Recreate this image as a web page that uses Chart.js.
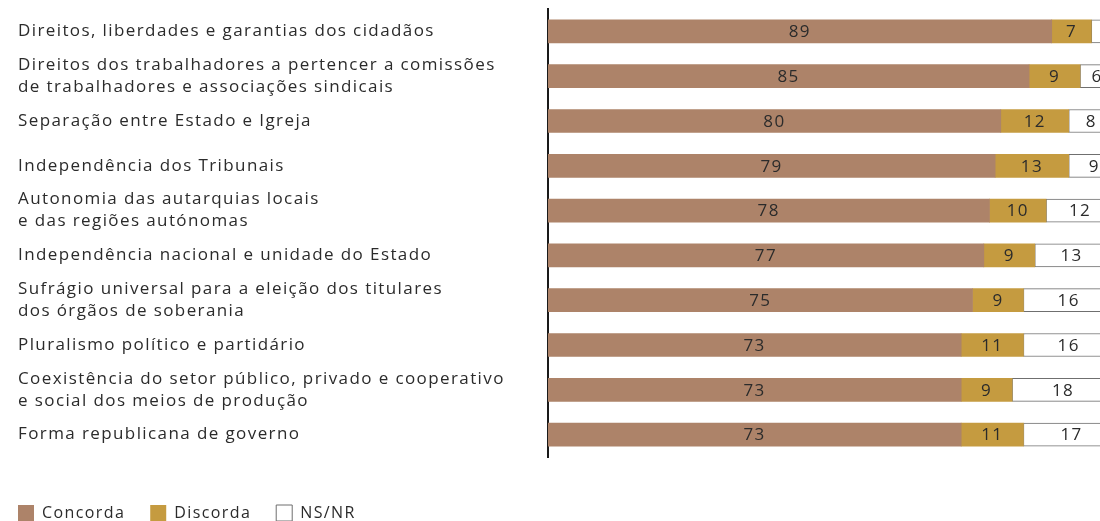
<!DOCTYPE html>
<html>
<head>
<meta charset="utf-8">
<script src="https://cdn.jsdelivr.net/npm/chart.js@4/dist/chart.umd.min.js"></script>
<style>
  html, body { margin: 0; padding: 0; background: #fff; width: 1100px; height: 521px; overflow: hidden; }
</style>
</head>
<body>
<canvas id="myChart" width="1130" height="545"></canvas>
<script>
// dados (%)
const categorias = [
  ['Direitos, liberdades e garantias dos cidadãos'],
  ['Direitos dos trabalhadores a pertencer a comissões', 'de trabalhadores e associações sindicais'],
  ['Separação entre Estado e Igreja'],
  ['Independência dos Tribunais'],
  ['Autonomia das autarquias locais', 'e das regiões autónomas'],
  ['Independência nacional e unidade do Estado'],
  ['Sufrágio universal para a eleição dos titulares', 'dos órgãos de soberania'],
  ['Pluralismo político e partidário'],
  ['Coexistência do setor público, privado e cooperativo', 'e social dos meios de produção'],
  ['Forma republicana de governo']
];
const concorda = [89, 85, 80, 79, 78, 77, 75, 73, 73, 73];
const discorda = [7, 9, 12, 13, 10, 9, 9, 11, 9, 11];
const nsnr = [5, 6, 8, 9, 12, 13, 16, 16, 18, 17];

const fonte = '"Open Sans", sans-serif';
const corTexto = '#2b2b2b';
const espacoLegenda = 25;

// a letra original é mais larga: um pouco de espaçamento entre letras
const espacoPlugin = {
  id: 'espaco',
  beforeUpdate(chart) { chart.ctx.letterSpacing = '1.4px'; },
  beforeDraw(chart) { chart.ctx.letterSpacing = '1.4px'; }
};

// escreve o valor no meio de cada barra
const valoresPlugin = {
  id: 'valores',
  afterDatasetsDraw(chart) {
    const ctx = chart.ctx;
    ctx.save();
    ctx.font = '17px ' + fonte;
    ctx.fillStyle = corTexto;
    ctx.textAlign = 'center';
    ctx.textBaseline = 'middle';
    chart.data.datasets.forEach((ds, i) => {
      chart.getDatasetMeta(i).data.forEach((bar, j) => {
        ctx.fillText(ds.data[j], (bar.x + bar.base) / 2, bar.y + 1);
      });
    });
    ctx.restore();
  }
};

// legenda encostada à esquerda, por baixo do gráfico
const legendaPlugin = {
  id: 'legendaPos',
  afterLayout(chart) {
    const lg = chart.legend;
    lg.left -= espacoLegenda;
    lg.right -= espacoLegenda;
    lg.top = chart.chartArea.bottom + 48 - espacoLegenda;
    lg.bottom = lg.top + lg.height + 20;
  }
};

const ctx = document.getElementById('myChart');

new Chart(ctx, {
  type: 'bar',
  data: {
    labels: categorias,
    datasets: [
      { label: 'Concorda', data: concorda, backgroundColor: '#ad8369', borderWidth: 0, barThickness: 23 },
      { label: 'Discorda', data: discorda, backgroundColor: '#c59b40', borderWidth: 0, barThickness: 23 },
      { label: 'NS/NR', data: nsnr, backgroundColor: '#ffffff', borderColor: '#6f6f6f', borderWidth: 1, borderSkipped: false, barThickness: 23 }
    ]
  },
  options: {
    indexAxis: 'y',
    responsive: false,
    animation: false,
    layout: { padding: { left: 18, top: 9, right: 16, bottom: 37 } },
    scales: {
      x: {
        stacked: true,
        min: 0,
        max: 100,
        display: false
      },
      y: {
        stacked: true,
        grid: { display: false, drawTicks: false },
        border: { display: true, color: '#1a1a1a', width: 2 },
        ticks: {
          autoSkip: false,
          crossAlign: 'far',
          color: corTexto,
          font: { family: fonte, size: 17, lineHeight: 1.3 }
        },
        afterFit(axis) {
          axis.width = 530;
          axis.paddingTop = 0;
          axis.paddingBottom = 0;
        }
      }
    },
    plugins: {
      tooltip: { enabled: false },
      legend: {
        position: 'bottom',
        align: 'start',
        labels: {
          boxWidth: 16,
          boxHeight: 16,
          padding: espacoLegenda,
          color: corTexto,
          font: { family: fonte, size: 16 }
        }
      }
    }
  },
  plugins: [espacoPlugin, valoresPlugin, legendaPlugin]
});
</script>
</body>
</html>
